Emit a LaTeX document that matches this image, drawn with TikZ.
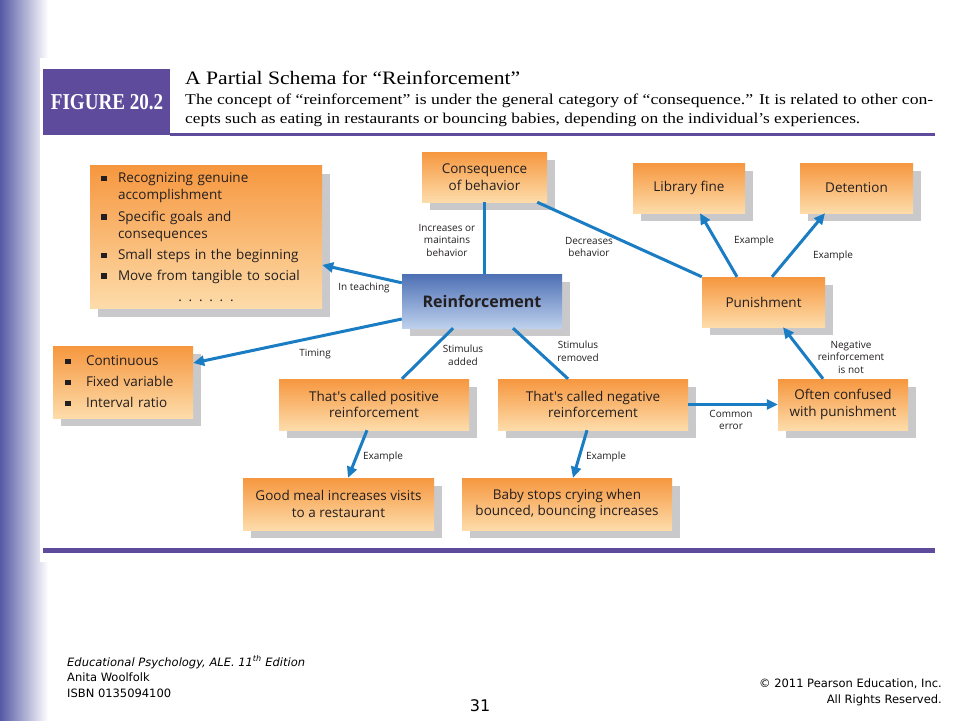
\documentclass[tikz,border=0pt]{standalone}
\usepackage{fontspec}
\setmainfont{Liberation Serif}
\newfontfamily\boxfont{Open Sans}
\newfontfamily\footfont{DejaVu Sans}
\usetikzlibrary{arrows.meta,shadows,calc}
\definecolor{figpurple}{HTML}{5E4B9B}
\definecolor{arr}{HTML}{1A7DC4}
\definecolor{otop}{HTML}{F6973F}
\definecolor{obot}{HTML}{FDDCAA}
\definecolor{btop}{HTML}{4D70B5}
\definecolor{bbot}{HTML}{BDD0EC}
\definecolor{shd}{HTML}{C9C9CB}
\definecolor{txt}{HTML}{231F20}
\definecolor{barblue}{HTML}{5559A4}
\newcommand{\bsq}[1]{\makebox[#1][l]{\rule[1.5pt]{5.5pt}{5.5pt}}}
\begin{document}
\begin{tikzpicture}[x=1pt,y=-1pt,
  boxbase/.style={draw=none, inner sep=0pt, align=center, text=txt,
    font=\boxfont\fontsize{13.5}{16.5}\selectfont,
    general shadow={fill=shd, shadow xshift=8pt, shadow yshift=-8pt}},
  obox/.style={boxbase, top color=otop, bottom color=obot},
  bbox/.style={boxbase, top color=btop, bottom color=bbot},
  lbl/.style={font=\boxfont\fontsize{10}{12.5}\selectfont, text=txt, align=center, inner sep=0pt},
  conn/.style={draw=arr, line width=3pt},
  arrowconn/.style={conn, -{Triangle[length=11pt,width=10pt]}},
  foot/.style={font=\footfont\fontsize{11.5}{13}\selectfont, inner sep=0pt, text=black}
]
\useasboundingbox (0,0) rectangle (960,720);
\fill[white] (0,0) rectangle (960,720);
% left gradient bar
\shade[left color=barblue, right color=white] (0,0) rectangle (48,720);
\fill[white] (40,58) rectangle (945,562);

% header
\fill[figpurple] (43,69) rectangle (170,135);
\node[text=white, inner sep=0pt] (figlabel) at (107,102.5)
  {\scalebox{0.84}[1]{\fontsize{22.7}{26}\selectfont\bfseries FIGURE 20.2}};
\draw[figpurple, line width=3pt] (170,134) -- (935,134);
\node[anchor=base west, inner sep=0pt] (title) at (185,84)
  {\resizebox{335pt}{\height}{\fontsize{19}{22}\selectfont A Partial Schema for “Reinforcement”}};
\node[anchor=base west, inner sep=0pt] (cap1) at (185,104)
  {\resizebox{748pt}{\height}{\fontsize{15}{18}\selectfont The concept of “reinforcement” is under the general category of “consequence.” It is related to other con-}};
\node[anchor=base west, inner sep=0pt] (cap2) at (185,123)
  {\resizebox{675pt}{\height}{\fontsize{15}{18}\selectfont cepts such as eating in restaurants or bouncing babies, depending on the individual's experiences.}};
\draw[figpurple, line width=5pt] (43,550) -- (935,550);

% boxes
\node[obox, minimum width=232pt, minimum height=143pt, text width=210pt, align=left, font=\boxfont\fontsize{13.5}{17}\selectfont] (bul1) at (206,237)
 {\bsq{17pt}Recognizing genuine\\
  \hspace*{17pt}accomplishment\\[4.5pt]
  \bsq{17pt}Specific goals and\\
  \hspace*{17pt}consequences\\[4.5pt]
  \bsq{17pt}Small steps in the beginning\\[3.5pt]
  \bsq{17pt}Move from tangible to social\\[4pt]
  \makebox[210pt][c]{. . . . . .}};
\node[obox, minimum width=125pt, minimum height=50pt] (cons) at (484.5,177) {Consequence\\of behavior};
\node[obox, minimum width=112pt, minimum height=50pt] (lib) at (689,188) {Library fine};
\node[obox, minimum width=113pt, minimum height=50pt] (det) at (856.5,188) {Detention};
\node[bbox, minimum width=160pt, minimum height=54pt, font=\boxfont\bfseries\fontsize{16}{19}\selectfont] (reinf) at (482,301) {Reinforcement};
\node[obox, minimum width=123pt, minimum height=50pt] (pun) at (763.5,302) {Punishment};
\node[obox, minimum width=140pt, minimum height=72pt, text width=116pt, align=left, font=\boxfont\fontsize{13.5}{21}\selectfont] (bul2) at (123,382)
 {\bsq{21pt}Continuous\\
  \bsq{21pt}Fixed variable\\
  \bsq{21pt}Interval ratio};
\node[obox, minimum width=190pt, minimum height=51pt] (pos) at (374,404.5) {That's called positive\\reinforcement};
\node[obox, minimum width=190pt, minimum height=51pt] (neg) at (593,404.5) {That's called negative\\reinforcement};
\node[obox, minimum width=130pt, minimum height=51pt] (often) at (843,404.5) {Often confused\\with punishment};
\node[obox, minimum width=191pt, minimum height=52pt] (meal) at (338.5,504) {Good meal increases visits\\to a restaurant};
\node[obox, minimum width=210pt, minimum height=52pt] (baby) at (567,504) {Baby stops crying when\\bounced, bouncing increases};

% connectors
\draw[conn] (cons.south) -- (cons.south |- reinf.north);
\draw[conn] ($(cons.south east)+(-10,0)$) -- (pun.north west);
\draw[arrowconn] ($(reinf.north west)+(0,9)$) -- ($(bul1.east)+(0,28)$);
\draw[arrowconn] ($(reinf.west)+(0,18)$) -- ($(bul2.east)+(0,-19)$);
\draw[conn] ($(reinf.south)+(-29,0)$) -- ($(pos.north)+(28,0)$);
\draw[conn] ($(reinf.south)+(31,0)$) -- ($(neg.north)+(-25,0)$);
\draw[arrowconn] ($(pos.south)+(-7,0)$) -- ($(meal.north)+(9.5,0)$);
\draw[arrowconn] ($(neg.south)+(-6,0)$) -- ($(baby.north)+(6,0)$);
\draw[arrowconn] (neg.east) -- (often.west);
\draw[arrowconn] ($(often.north)+(-20,0)$) -- ($(pun.south)+(19.5,0)$);
\draw[arrowconn] ($(pun.north)+(-26.5,0)$) -- ($(lib.south)+(11,0)$);
\draw[arrowconn] ($(pun.north)+(8.5,0)$) -- ($(det.south)+(-31.5,0)$);

% labels
\node[lbl] (l1) at (447,240) {Increases or\\maintains\\behavior};
\node[lbl] (l2) at (589,247) {Decreases\\behavior};
\node[lbl] (l3) at (364,288) {In teaching};
\node[lbl] (l4) at (315,354) {Timing};
\node[lbl] (l5) at (463,355) {Stimulus\\added};
\node[lbl] (l6) at (578,351) {Stimulus\\removed};
\node[lbl] (l7) at (383,457) {Example};
\node[lbl] (l8) at (606,457) {Example};
\node[lbl] (l9) at (731,420) {Common\\error};
\node[lbl] (l10) at (851,357) {Negative\\reinforcement\\is not};
\node[lbl] (l11) at (754,241) {Example};
\node[lbl] (l12) at (833,256) {Example};

% footer
\node[foot, anchor=west] (f1) at (67,662) {\itshape Educational Psychology, ALE. 11\textsuperscript{th} Edition};
\node[foot, anchor=west] (f2) at (67,677) {Anita Woolfolk};
\node[foot, anchor=west] (f3) at (67,693) {ISBN 0135094100};
\node[foot, anchor=east] (f4) at (942,684) {© 2011 Pearson Education, Inc.};
\node[foot, anchor=east] (f5) at (942,700) {All Rights Reserved.};
\node[font=\footfont\fontsize{16}{18}\selectfont, inner sep=0pt] (pg) at (480,706) {31};
\end{tikzpicture}
\end{document}
